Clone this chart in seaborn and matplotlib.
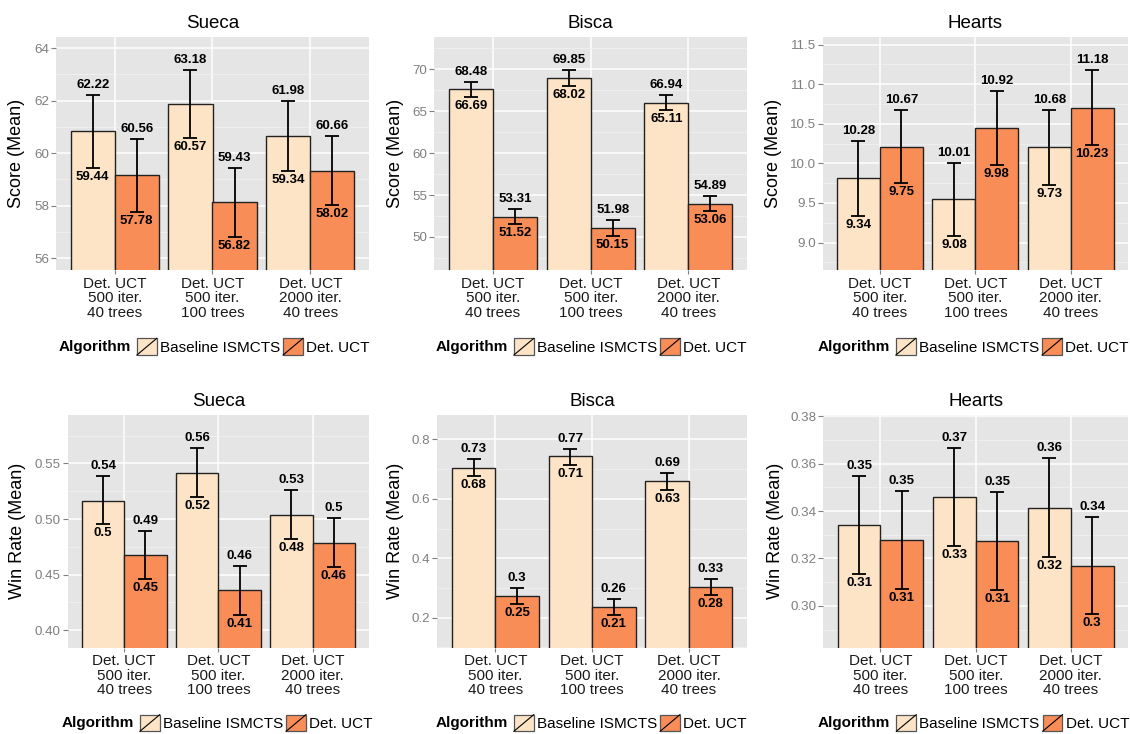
import numpy as np
import pandas as pd
import matplotlib
matplotlib.use("Agg")
import matplotlib.pyplot as plt
from matplotlib.patches import Rectangle
from matplotlib.lines import Line2D
from matplotlib.legend_handler import HandlerBase
from matplotlib.ticker import FixedLocator
import seaborn as sns

# ---------------- data ----------------
games = ["Sueca", "Bisca", "Hearts"]
configs = ["Det. UCT\n500 iter.\n40 trees",
           "Det. UCT\n500 iter.\n100 trees",
           "Det. UCT\n2000 iter.\n40 trees"]
algorithms = ["Baseline ISMCTS", "Det. UCT"]
metric_labels = ["Score (Mean)", "Win Rate (Mean)"]

# values per algorithm: one entry per config
sueca_score_base = [60.83, 61.875, 60.66]
sueca_score_base_lo = [59.44, 60.57, 59.34]
sueca_score_base_hi = [62.22, 63.18, 61.98]
sueca_score_det = [59.17, 58.125, 59.34]
sueca_score_det_lo = [57.78, 56.82, 58.02]
sueca_score_det_hi = [60.56, 59.43, 60.66]

bisca_score_base = [67.585, 68.935, 66.025]
bisca_score_base_lo = [66.69, 68.02, 65.11]
bisca_score_base_hi = [68.48, 69.85, 66.94]
bisca_score_det = [52.415, 51.065, 53.975]
bisca_score_det_lo = [51.52, 50.15, 53.06]
bisca_score_det_hi = [53.31, 51.98, 54.89]

hearts_score_base = [9.81, 9.545, 10.205]
hearts_score_base_lo = [9.34, 9.08, 9.73]
hearts_score_base_hi = [10.28, 10.01, 10.68]
hearts_score_det = [10.21, 10.45, 10.705]
hearts_score_det_lo = [9.75, 9.98, 10.23]
hearts_score_det_hi = [10.67, 10.92, 11.18]

sueca_win_base = [0.5166, 0.5416, 0.5036]
sueca_win_base_lo = [0.4952, 0.5198, 0.4817]
sueca_win_base_hi = [0.5386, 0.5635, 0.5257]
sueca_win_det = [0.4680, 0.4359, 0.4787]
sueca_win_det_lo = [0.4461, 0.4141, 0.4572]
sueca_win_det_hi = [0.4895, 0.4578, 0.5009]

bisca_win_base = [0.7045, 0.7427, 0.6584]
bisca_win_base_lo = [0.6764, 0.7146, 0.6292]
bisca_win_base_hi = [0.7326, 0.7685, 0.6876]
bisca_win_det = [0.2730, 0.2360, 0.3034]
bisca_win_det_lo = [0.2458, 0.2090, 0.2753]
bisca_win_det_hi = [0.3010, 0.2618, 0.3315]

hearts_win_base = [0.3341, 0.3459, 0.3414]
hearts_win_base_lo = [0.3133, 0.3252, 0.3206]
hearts_win_base_hi = [0.3547, 0.3668, 0.3623]
hearts_win_det = [0.3279, 0.3273, 0.3168]
hearts_win_det_lo = [0.3073, 0.3069, 0.2966]
hearts_win_det_hi = [0.3483, 0.3479, 0.3375]

# y axis ticks / labels / limits per panel
sueca_score_ticks = [56, 58, 60, 62, 64]
sueca_score_ticklabels = ["56", "58", "60", "62", "64"]
bisca_score_ticks = [50, 55, 60, 65, 70]
bisca_score_ticklabels = ["50", "55", "60", "65", "70"]
hearts_score_ticks = [9.0, 9.5, 10.0, 10.5, 11.0, 11.5]
hearts_score_ticklabels = ["9.0", "9.5", "10.0", "10.5", "11.0", "11.5"]
sueca_win_ticks = [0.40, 0.45, 0.50, 0.55]
sueca_win_ticklabels = ["0.40", "0.45", "0.50", "0.55"]
bisca_win_ticks = [0.2, 0.4, 0.6, 0.8]
bisca_win_ticklabels = ["0.2", "0.4", "0.6", "0.8"]
hearts_win_ticks = [0.30, 0.32, 0.34, 0.36, 0.38]
hearts_win_ticklabels = ["0.30", "0.32", "0.34", "0.36", "0.38"]

sueca_score_ylim = (55.54, 64.44)
bisca_score_ylim = (46.02, 73.88)
hearts_score_ylim = (8.65, 11.60)
sueca_win_ylim = (0.384, 0.594)
bisca_win_ylim = (0.0975, 0.884)
hearts_win_ylim = (0.2822, 0.3808)

colors = ["#FDE4C6", "#F98D58"]

# ---------------- style ----------------
plt.rcParams["font.family"] = ["Liberation Sans", "DejaVu Sans"]
W, H = 1130, 734
fig = plt.figure(figsize=(W / 100, H / 100), dpi=100)
fig.patch.set_facecolor("white")

row_tb = [(36.7, 270.3), (414.5, 648.0)]
col_lr = [[(56.0, 369.0), (434.3, 747.0), (822.7, 1128.0)],
          [(67.7, 369.0), (437.3, 747.0), (823.3, 1128.0)]]
ylabel_x = [[16.7, 395.0, 773.0], [18.0, 395.0, 775.0]]
legend_cx = [[214.0, 591.0, 973.0], [217.0, 591.0, 973.5]]
legend_cy = [346.7, 723.0]

panels = [
    [(sueca_score_base, sueca_score_base_lo, sueca_score_base_hi,
      sueca_score_det, sueca_score_det_lo, sueca_score_det_hi,
      sueca_score_ticks, sueca_score_ticklabels, sueca_score_ylim),
     (bisca_score_base, bisca_score_base_lo, bisca_score_base_hi,
      bisca_score_det, bisca_score_det_lo, bisca_score_det_hi,
      bisca_score_ticks, bisca_score_ticklabels, bisca_score_ylim),
     (hearts_score_base, hearts_score_base_lo, hearts_score_base_hi,
      hearts_score_det, hearts_score_det_lo, hearts_score_det_hi,
      hearts_score_ticks, hearts_score_ticklabels, hearts_score_ylim)],
    [(sueca_win_base, sueca_win_base_lo, sueca_win_base_hi,
      sueca_win_det, sueca_win_det_lo, sueca_win_det_hi,
      sueca_win_ticks, sueca_win_ticklabels, sueca_win_ylim),
     (bisca_win_base, bisca_win_base_lo, bisca_win_base_hi,
      bisca_win_det, bisca_win_det_lo, bisca_win_det_hi,
      bisca_win_ticks, bisca_win_ticklabels, bisca_win_ylim),
     (hearts_win_base, hearts_win_base_lo, hearts_win_base_hi,
      hearts_win_det, hearts_win_det_lo, hearts_win_det_hi,
      hearts_win_ticks, hearts_win_ticklabels, hearts_win_ylim)],
]


def fmt(v):
    s = f"{v:.2f}"
    if "." in s:
        s = s.rstrip("0").rstrip(".")
    return s


class SlashHandler(HandlerBase):
    def create_artists(self, legend, orig_handle, xdescent, ydescent,
                       width, height, fontsize, trans):
        r = Rectangle((-xdescent, -ydescent), width, height,
                      facecolor=orig_handle.get_facecolor(),
                      edgecolor="#555555", lw=0.9, transform=trans)
        ln = Line2D([-xdescent, -xdescent + width],
                    [-ydescent, -ydescent + height],
                    color="black", lw=0.8, transform=trans)
        return [r, ln]


legend_items = []

for r in range(2):
    top, bot = row_tb[r]
    for c in range(3):
        left, right = col_lr[r][c]
        (b_m, b_lo, b_hi, d_m, d_lo, d_hi, ticks, ticklabels, ylim) = panels[r][c]
        ax = fig.add_axes([left / W, 1 - bot / H, (right - left) / W, (bot - top) / H])
        ax.set_facecolor("#E5E5E5")
        for s in ax.spines.values():
            s.set_visible(False)

        df = pd.DataFrame({
            "config": configs * 2,
            "algorithm": [algorithms[0]] * 3 + [algorithms[1]] * 3,
            "mean": list(b_m) + list(d_m),
        })
        sns.barplot(data=df, x="config", y="mean", hue="algorithm",
                    order=configs, hue_order=algorithms,
                    palette=colors, width=0.9, gap=0, errorbar=None,
                    edgecolor="#222222", linewidth=1.0, saturation=1,
                    legend=False, ax=ax, zorder=2)

        los = [b_lo, d_lo]
        his = [b_hi, d_hi]
        means = [b_m, d_m]
        bar_conts = list(ax.containers)
        for h, cont in enumerate(bar_conts):
            for i, bar in enumerate(cont):
                x = bar.get_x() + bar.get_width() / 2
                m = means[h][i]
                lo, hi = los[h][i], his[h][i]
                ax.errorbar([x], [m], yerr=[[m - lo], [hi - m]], fmt="none",
                            ecolor="black", elinewidth=1.3, capsize=4.7,
                            capthick=1.3, zorder=3)
                ax.annotate(fmt(hi), xy=(x, hi), xytext=(0, 4),
                            textcoords="offset pixels", ha="center",
                            va="bottom", fontsize=9.5, fontweight="bold",
                            zorder=4)
                ax.annotate(fmt(lo), xy=(x, lo), xytext=(0, -3),
                            textcoords="offset pixels", ha="center",
                            va="top", fontsize=9.5, fontweight="bold",
                            zorder=4)

        ax.set_xlim(-0.6, 2.6)
        ax.set_ylim(*ylim)
        ax.set_yticks(ticks)
        ax.set_yticklabels(ticklabels)
        step = ticks[1] - ticks[0]
        minors = np.arange(ticks[0] - step / 2, ylim[1], step)
        ax.yaxis.set_minor_locator(FixedLocator([v for v in minors if ylim[0] < v < ylim[1]]))
        ax.set_axisbelow(True)
        ax.grid(axis="y", which="major", color="white", lw=1.1, zorder=0)
        ax.grid(axis="y", which="minor", color="#F3F3F3", lw=0.5, zorder=0)
        ax.grid(axis="x", which="major", color="white", lw=1.1, zorder=0)
        ax.tick_params(axis="y", which="minor", length=0)
        ax.tick_params(axis="y", which="major", length=3.5, width=0.8,
                       color="#7F7F7F", labelcolor="#7F7F7F", labelsize=9.6, pad=1.5)
        ax.tick_params(axis="x", which="major", length=3.0, width=0.8,
                       color="#7F7F7F", labelcolor="#1a1a1a", labelsize=11, pad=1.5)
        for lab in ax.get_xticklabels():
            lab.set_linespacing(1.05)
        ax.set_xlabel("")
        ax.set_ylabel(metric_labels[r], fontsize=13, color="black")
        ph = bot - top
        pw = right - left
        ax.yaxis.set_label_coords((ylabel_x[r][c] - left) / pw, 0.5)
        ax.yaxis.label.set_va("center")
        ax.set_title(games[c], fontsize=13.5, y=1 + 13.2 / ph, va="center", pad=0)

        handles = [Rectangle((0, 0), 1, 1, facecolor=colors[0]),
                   Rectangle((0, 0), 1, 1, facecolor=colors[1])]
        leg = ax.legend(handles, algorithms, handler_map={Rectangle: SlashHandler()},
                        ncol=2, loc="center left", bbox_to_anchor=(0, 0),
                        bbox_transform=fig.transFigure, frameon=False,
                        borderpad=0, borderaxespad=0, fontsize=11,
                        handlelength=1.3, handleheight=1.3,
                        handletextpad=0.2, columnspacing=0.2)
        ttl = fig.text(0, 0, "Algorithm", fontsize=11, fontweight="bold",
                       ha="left", va="center")
        legend_items.append((leg, ttl, legend_cx[r][c], legend_cy[r]))

fig.canvas.draw()
renderer = fig.canvas.get_renderer()
for leg, ttl, cx, cy in legend_items:
    wl = leg.get_window_extent(renderer).width
    wt = ttl.get_window_extent(renderer).width
    total = wt + 6 + wl
    lx = cx - total / 2
    ttl.set_position((lx / W, 1 - cy / H))
    leg.set_bbox_to_anchor(((lx + wt + 6) / W, 1 - cy / H), transform=fig.transFigure)

fig.savefig("out.png", dpi=100, facecolor="white")
